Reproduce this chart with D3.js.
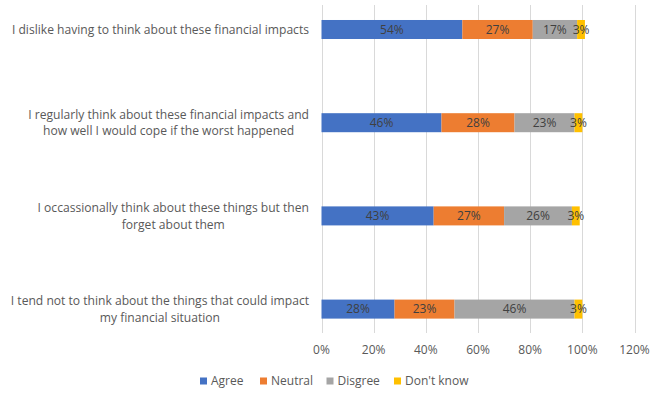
<!DOCTYPE html>
<html>
<head>
<meta charset="utf-8">
<script src="https://cdn.jsdelivr.net/npm/d3@7"></script>
<style>
  html, body { margin: 0; padding: 0; background: #ffffff; }
  svg { display: block; }
  text { font-family: "Open Sans", "Liberation Sans", sans-serif; }
</style>
</head>
<body>
<svg id="chart" width="651" height="393"></svg>
<script>
// Survey statements (category axis, top to bottom)
const categories = [
  ["I dislike having to think about these financial impacts"],
  ["I regularly think about these financial impacts and", "how well I would cope if the worst happened"],
  ["I occassionally think about these things but then", "forget about them"],
  ["I tend not to think about the things that could impact", "my financial situation"]
];
const seriesNames = ["Agree", "Neutral", "Disgree", "Don't know"];
const agree    = [54, 46, 43, 28];
const neutral  = [27, 28, 27, 23];
const disagree = [17, 23, 26, 46];
const dontKnow = [3, 3, 3, 3];
const xTicks = [0, 20, 40, 60, 80, 100, 120];
const colors = ["#4472C4", "#ED7D31", "#A5A5A5", "#FFC000"];

const svg = d3.select("#chart");
const catKeys = categories.map((c, i) => "c" + i);

const x = d3.scaleLinear().domain([0, 120]).range([321.5, 634.5]);
const y = d3.scaleBand().domain(catKeys).range([-17.1, 355.7])
  .paddingInner(0.796).paddingOuter(0.398);

const plotTop = 5, plotBottom = 333;

// vertical gridlines
svg.append("g").selectAll("line").data(xTicks).join("line")
  .attr("x1", d => Math.round(x(d)) + 0.5).attr("x2", d => Math.round(x(d)) + 0.5)
  .attr("y1", plotTop).attr("y2", plotBottom)
  .attr("stroke", "#D9D9D9").attr("stroke-width", 1);

// stacked rows
const rows = catKeys.map((k, i) => {
  const vals = [agree[i], neutral[i], disagree[i], dontKnow[i]];
  let acc = 0;
  return vals.map((v, s) => { const seg = { key: k, s, v, x0: acc, x1: acc + v }; acc += v; return seg; });
});
const segs = rows.flat();

svg.append("g").selectAll("rect").data(segs).join("rect")
  .attr("x", d => x(d.x0)).attr("width", d => x(d.x1) - x(d.x0))
  .attr("y", d => y(d.key)).attr("height", y.bandwidth())
  .attr("fill", d => colors[d.s]);

// data labels
svg.append("g").selectAll("text").data(segs).join("text")
  .attr("x", d => (x(d.x0) + x(d.x1)) / 2)
  .attr("y", d => y(d.key) + y.bandwidth() / 2)
  .attr("dy", "0.36em")
  .attr("text-anchor", "middle")
  .attr("font-size", 12)
  .attr("fill", "#404040")
  .text(d => d.v + "%");

// category labels: each block centred, right edge at the axis gap
const labelRight = 309;
const lineH = 16.5;
const catG = svg.append("g").attr("font-size", 12.1).attr("fill", "#595959");
categories.forEach((lines, i) => {
  const g = catG.append("g");
  const texts = lines.map((t, j) => g.append("text").text(t)
    .attr("y", y(catKeys[i]) + y.bandwidth() / 2 + (j - (lines.length - 1) / 2) * lineH)
    .attr("dy", "0.36em"));
  const maxW = d3.max(texts, t => t.node().getComputedTextLength());
  const cx = labelRight - maxW / 2;
  texts.forEach(t => t.attr("x", cx).attr("text-anchor", "middle"));
});

// x tick labels
svg.append("g").selectAll("text").data(xTicks).join("text")
  .attr("x", d => x(d)).attr("y", 350).attr("dy", "0.36em")
  .attr("text-anchor", "middle").attr("font-size", 12).attr("fill", "#595959")
  .text(d => d + "%");

// legend
const legendX = [200, 260, 326.5, 394];
const lg = svg.append("g").selectAll("g").data(seriesNames).join("g")
  .attr("transform", (d, i) => `translate(${legendX[i]},381)`);
lg.append("rect").attr("x", 0).attr("y", -3.5).attr("width", 7).attr("height", 7)
  .attr("fill", (d, i) => colors[i]);
lg.append("text").attr("x", 11).attr("dy", "0.36em")
  .attr("font-size", 12).attr("fill", "#595959").text(d => d);
</script>
</body>
</html>
